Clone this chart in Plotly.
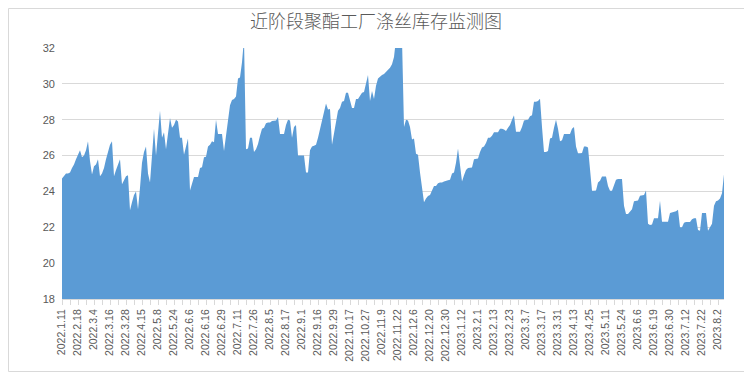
import plotly.graph_objects as go

title_text = "近阶段聚酯工厂涤丝库存监测图"

tick_labels = ["2022.1.11", "2022.2.18", "2022.3.4", "2022.3.16", "2022.3.28", "2022.4.15",
               "2022.5.8", "2022.5.24", "2022.6.6", "2022.6.16", "2022.6.29", "2022.7.11",
               "2022.7.26", "2022.8.5", "2022.8.17", "2022.9.1", "2022.9.16", "2022.9.29",
               "2022.10.17", "2022.10.27", "2022.11.9", "2022.11.22", "2022.12.6", "2022.12.20",
               "2022.12.30", "2023.1.12", "2023.2.1", "2023.2.13", "2023.2.23", "2023.3.7",
               "2023.3.17", "2023.3.31", "2023.4.13", "2023.4.25", "2023.5.11", "2023.5.24",
               "2023.6.6", "2023.6.19", "2023.6.30", "2023.7.12", "2023.7.22", "2023.8.2"]

inventory_days = [
    24.72, 24.85, 25.0, 25.0, 25.05, 25.3, 25.5, 25.8, 26.1, 26.3,
    25.9, 26.0, 26.3, 26.8, 25.7, 24.95, 25.4, 25.5, 25.8, 24.85,
    25.0, 25.3, 25.8, 26.2, 26.6, 26.8, 24.85, 25.2, 25.5, 25.8,
    24.4, 24.6, 24.85, 24.9, 22.95, 23.4, 23.8, 24.0, 23.0, 24.2,
    25.6, 26.2, 26.5, 25.0, 24.5, 26.0, 27.5, 26.0, 27.4, 28.5,
    27.0, 27.3, 26.35, 27.2, 28.1, 27.55, 27.7, 28.0, 27.9, 27.0,
    27.0, 26.05, 26.5, 26.95, 24.05, 24.4, 24.8, 24.8, 24.8, 25.3,
    25.35, 25.9, 25.93, 26.5, 26.6, 26.8, 26.75, 28.0, 27.2, 27.2,
    27.2, 26.25, 27.2, 28.2, 28.8, 29.1, 29.15, 29.3, 30.3, 30.35,
    31.2, 32.5, 26.35, 26.4, 27.0, 27.0, 26.2, 26.35, 26.65, 27.1,
    27.5, 27.55, 27.8, 27.85, 27.85, 27.93, 27.93, 27.95, 28.15, 27.2,
    27.2, 27.2, 27.7, 28.0, 27.95, 27.0, 27.6, 27.7, 26.0, 26.0,
    26.0, 26.0, 25.05, 25.05, 26.3, 26.5, 26.55, 26.6, 27.0, 27.5,
    28.0, 28.45, 28.9, 28.57, 28.6, 26.6, 27.3, 28.0, 28.5, 28.65,
    29.0, 29.05, 29.5, 29.5, 29.05, 28.65, 28.65, 29.15, 29.15, 29.3,
    29.5, 29.55, 30.1, 30.5, 29.05, 29.6, 29.15, 29.9, 30.3, 30.43,
    30.5, 30.55, 30.65, 30.8, 30.9, 31.1, 31.5, 32.5, 32.5, 32.5,
    32.5, 27.6, 28.0, 27.95, 27.6, 26.9, 26.95, 26.1, 26.05, 25.05,
    24.3, 23.4, 23.6, 23.75, 23.8, 24.1, 24.3, 24.3, 24.45, 24.5,
    24.5, 24.55, 24.6, 24.62, 24.65, 25.0, 25.05, 25.6, 26.4, 25.6,
    24.55, 24.9, 25.2, 25.3, 25.33, 25.33, 25.8, 25.82, 25.83, 26.2,
    26.45, 26.5, 26.7, 27.0, 27.0, 27.1, 27.3, 27.3, 27.3, 27.5,
    27.5, 27.45, 27.37, 27.55, 27.7, 28.0, 28.25, 27.33, 27.33, 27.33,
    27.6, 27.95, 27.98, 28.0, 28.2, 28.25, 29.0, 29.0, 29.05, 29.17,
    27.6, 26.2, 26.2, 26.25, 26.95, 27.0, 27.55, 28.0, 27.5, 26.8,
    26.85, 27.2, 27.2, 27.2, 27.2, 27.5, 27.6, 26.5, 26.13, 26.13,
    26.15, 26.5, 26.5, 26.45, 25.05, 24.04, 24.04, 24.05, 24.5, 24.6,
    24.83, 24.83, 24.83, 24.3, 24.04, 24.04, 24.4, 24.65, 24.7, 24.7,
    24.7, 23.2, 22.74, 22.74, 22.9, 23.0, 23.45, 23.48, 23.5, 23.76,
    23.76, 23.8, 24.05, 22.2, 22.13, 22.15, 22.5, 22.5, 22.5, 23.48,
    22.31, 22.31, 22.31, 22.31, 22.8, 22.83, 22.85, 22.9, 22.98, 22.0,
    22.0, 22.25, 22.3, 22.3, 22.3, 22.45, 22.5, 22.5, 21.85, 21.8,
    22.8, 22.8, 22.8, 21.8, 22.0, 22.2, 23.2, 23.45, 23.5, 23.6,
    23.9, 24.96,
]

x_idx = list(range(len(inventory_days)))
label_step = 8
tick_step = 4
tickvals = list(range(0, len(inventory_days), tick_step))
ticktext = []
for v in tickvals:
    if v % label_step == 0 and v // label_step < len(tick_labels):
        ticktext.append(tick_labels[v // label_step])
    else:
        ticktext.append("")

# page body has an 8px default margin; the figure is placed at (8, 8)
OFF = 8
W, H = 752 - OFF, 374 - OFF
L, R, T, B = 62 - OFF, 28, 48 - OFF, 75
pw, ph = W - L - R, H - T - B

fig = go.Figure()
fig.add_trace(go.Scatter(
    x=x_idx, y=inventory_days, mode="lines", fill="tozeroy",
    line=dict(color="#5B9BD5", width=0), fillcolor="#5B9BD5",
    hoverinfo="x+y", showlegend=False,
))

def px2paper_x(px):
    return (px - OFF - L) / pw

def px2paper_y(py):
    return (H - B - (py - OFF)) / ph

fig.update_layout(
    width=W, height=H,
    margin=dict(l=L, r=R, t=T, b=B, autoexpand=False),
    paper_bgcolor="white", plot_bgcolor="white",
    title=dict(text=title_text, x=(376 - OFF) / W, xanchor="center", y=1 - 14 / H, yanchor="middle",
               font=dict(family="Noto Sans CJK SC", size=18, color="#595959", weight=300)),
    font=dict(family="Liberation Sans, Arial", color="#595959"),
    xaxis=dict(
        range=[0, len(inventory_days) - 1], tickmode="array", tickvals=tickvals, ticktext=ticktext,
        tickangle=-90, tickfont=dict(size=10.5, color="#595959"),
        ticks="outside", ticklen=5, tickcolor="#D9D9D9",
        showline=True, linecolor="#D9D9D9", linewidth=1,
        showgrid=False, zeroline=False, fixedrange=True, automargin=False,
    ),
    yaxis=dict(
        range=[18, 32], dtick=2, tick0=18, tickfont=dict(size=11, color="#595959"),
        showgrid=True, gridcolor="#D9D9D9", gridwidth=1, showline=False,
        zeroline=False, ticks="", ticklabelstandoff=6, automargin=False,
    ),
    shapes=[dict(type="rect", xref="paper", yref="paper",
                 x0=px2paper_x(OFF + 0.5), x1=px2paper_x(750.5),
                 y0=px2paper_y(371.5), y1=px2paper_y(OFF + 0.5),
                 line=dict(color="#D9D9D9", width=1), fillcolor="rgba(0,0,0,0)", layer="below")],
)

fig.write_html("out.html")
